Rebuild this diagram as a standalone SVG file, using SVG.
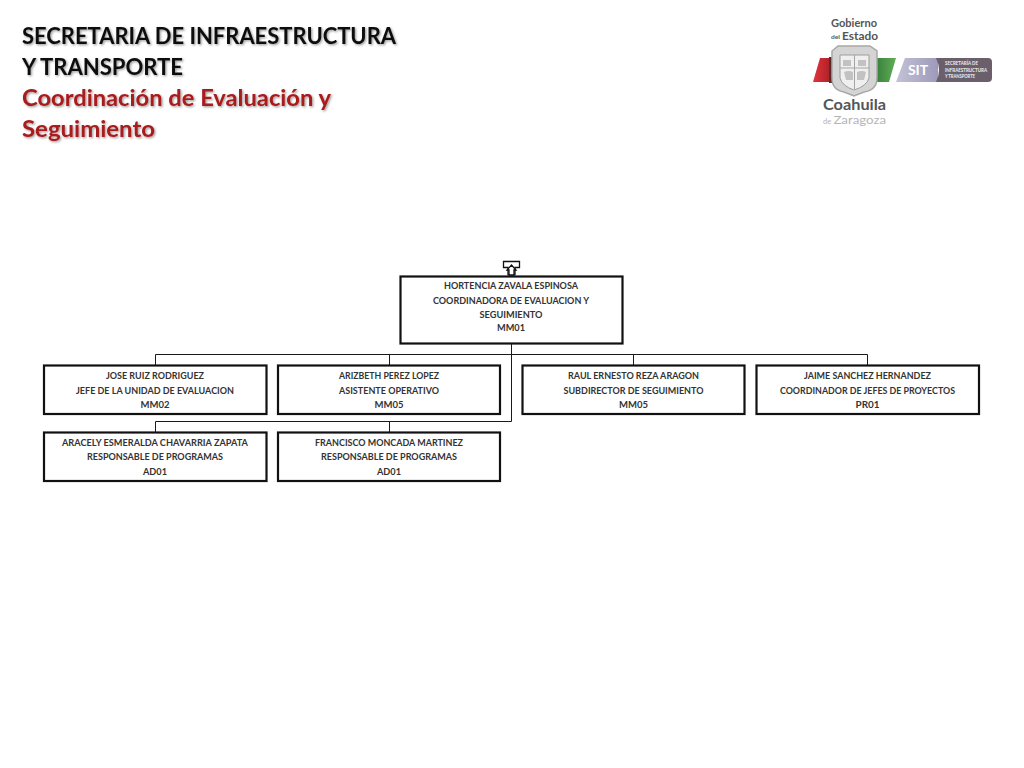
<svg xmlns="http://www.w3.org/2000/svg" width="1024" height="768" viewBox="0 0 1024 768">
<defs>
<filter id="sh" x="-5%" y="-10%" width="110%" height="130%"><feDropShadow dx="1.2" dy="1.2" stdDeviation="1" flood-color="#000" flood-opacity="0.4"/></filter>
<filter id="soft" x="-5%" y="-5%" width="110%" height="110%"><feGaussianBlur stdDeviation="0.5"/></filter>
<linearGradient id="red" x1="0" x2="1" y1="0" y2="0"><stop offset="0" stop-color="#e2343c"/><stop offset="1" stop-color="#9c1a22"/></linearGradient>
<linearGradient id="green" x1="0" x2="1" y1="0" y2="0"><stop offset="0" stop-color="#2f7a38"/><stop offset="1" stop-color="#63ad57"/></linearGradient>
<linearGradient id="lav" x1="0" x2="1" y1="0" y2="0"><stop offset="0" stop-color="#c3c2d6"/><stop offset="1" stop-color="#9d9abb"/></linearGradient>
</defs>
<style>
text{font-family:"Lato","Open Sans","Liberation Sans",sans-serif}
.box{fill:#fff;stroke:#111;stroke-width:2.2}
.t{font-size:10px;font-weight:700;fill:#333;text-anchor:middle}
.h{font-size:23.5px;font-weight:700;filter:url(#sh)}
.c{fill:none;stroke:#1a1a1a;stroke-width:1}
</style>
<rect width="1024" height="768" fill="#fff"/>
<g id="title">
<text class="h" x="22" y="43.500" fill="#111" textLength="374" lengthAdjust="spacingAndGlyphs">SECRETARIA DE INFRAESTRUCTURA</text>
<text class="h" x="22" y="74.500" fill="#111" textLength="161" lengthAdjust="spacingAndGlyphs">Y TRANSPORTE</text>
<text class="h" x="22" y="105.500" fill="#a81a1e" textLength="309" lengthAdjust="spacingAndGlyphs">Coordinación de Evaluación y</text>
<text class="h" x="22" y="136.500" fill="#a81a1e" textLength="133" lengthAdjust="spacingAndGlyphs">Seguimiento</text>
</g>
<g id="logo">
<text x="831" y="26.500" font-size="12" font-weight="700" fill="#555" textLength="46" lengthAdjust="spacingAndGlyphs">Gobierno</text>
<text x="842" y="40" font-size="12" font-weight="700" fill="#555" textLength="36" lengthAdjust="spacingAndGlyphs">Estado</text>
<text x="831" y="39" font-size="6" font-weight="700" fill="#555" textLength="9" lengthAdjust="spacingAndGlyphs">del</text>
<polygon points="820,58 836,58 836,82 813,82" fill="url(#red)"/>
<polygon points="873,58 896,58 889,82 873,82" fill="url(#green)"/>
<rect x="829" y="57" width="5" height="26" fill="#5a2a2a"/>
<rect x="873" y="57" width="4" height="26" fill="#2d4a30"/>
<g filter="url(#soft)">
<path d="M832 51 L838 46 H870 L877 51 V78 Q877 90 864 92 L854 96 L844 92 Q832 90 832 78Z" fill="#d4d4d4" stroke="#a8a8a8" stroke-width="1.500"/>
<path d="M840 55 H869 V78 Q867 86 854 90 Q842 86 840 78Z" fill="#efefef" stroke="#9e9e9e"/>
<path d="M854.500 55V89M840 68H869" stroke="#a5a5a5" fill="none"/>
<path d="M843 60h8v6h-8zM858 60h8v6h-8zM844 72q5-2 9 0v8h-7zM857 72q5-2 9 0l-2 8h-7z" fill="#c2c2c2"/>
</g>
<text x="823" y="109.500" font-size="16" font-weight="700" fill="#555" textLength="63" lengthAdjust="spacingAndGlyphs">Coahuila</text>
<text x="823" y="124" font-size="12" fill="#b5b5b5" textLength="63" lengthAdjust="spacingAndGlyphs"><tspan font-size="7">de </tspan>Zaragoza</text>
<polygon points="905,58 938,58 938,82 896,82" fill="url(#lav)"/>
<path d="M936 58 H988 Q992 58 992 62 V78 Q992 82 988 82 H936 Q942 70 936 58Z" fill="#6b5f6b"/>
<text x="918" y="75" font-size="14" font-weight="700" fill="#fff" text-anchor="middle">SIT</text>
<text x="945" y="65" font-size="5" font-weight="700" fill="#eee" textLength="33" lengthAdjust="spacingAndGlyphs">SECRETARÍA DE</text>
<text x="945" y="71.500" font-size="5" font-weight="700" fill="#eee" textLength="42" lengthAdjust="spacingAndGlyphs">INFRAESTRUCTURA</text>
<text x="945" y="78" font-size="5" font-weight="700" fill="#eee" textLength="30" lengthAdjust="spacingAndGlyphs">Y TRANSPORTE</text>
</g>
<g id="connectors">
<path class="c" d="M511.500 343V421.500M155.500 354.500H867.500M155.500 354.500V365M389.500 354.500V365M633.500 354.500V365M867.500 354.500V365M155.500 421.500H511.500M155.500 421.500V432M389.500 421.500V432"/>
</g>
<g id="icon">
<path d="M503.500 261.500H519.500V267.500H515V274.500H508V267.500H503.500Z" fill="#fff" stroke="#111" stroke-width="1.300"/>
<path d="M511.500 265L507 270H509V275H514V270H516Z" fill="#fff" stroke="#111" stroke-width="1.300"/>
</g>
<g id="n0"><rect class="box" x="400.500" y="276.500" width="222" height="67"/>
<text class="t" x="511" y="289" textLength="134" lengthAdjust="spacingAndGlyphs">HORTENCIA ZAVALA ESPINOSA</text><text class="t" x="511" y="304" textLength="156" lengthAdjust="spacingAndGlyphs">COORDINADORA DE EVALUACION Y</text><text class="t" x="511" y="317.500" textLength="63" lengthAdjust="spacingAndGlyphs">SEGUIMIENTO</text><text class="t" x="511" y="331" textLength="28" lengthAdjust="spacingAndGlyphs">MM01</text></g>
<g id="n1"><rect class="box" x="44" y="365.500" width="222.500" height="48.500"/>
<text class="t" x="155" y="379" textLength="98" lengthAdjust="spacingAndGlyphs">JOSE RUIZ RODRIGUEZ</text><text class="t" x="155" y="393.500" textLength="158" lengthAdjust="spacingAndGlyphs">JEFE DE LA UNIDAD DE EVALUACION</text><text class="t" x="155" y="408" textLength="29" lengthAdjust="spacingAndGlyphs">MM02</text></g>
<g id="n2"><rect class="box" x="278" y="365.500" width="222" height="48.500"/>
<text class="t" x="389" y="379" textLength="100" lengthAdjust="spacingAndGlyphs">ARIZBETH PEREZ LOPEZ</text><text class="t" x="389" y="393.500" textLength="100" lengthAdjust="spacingAndGlyphs">ASISTENTE OPERATIVO</text><text class="t" x="389" y="408" textLength="29" lengthAdjust="spacingAndGlyphs">MM05</text></g>
<g id="n3"><rect class="box" x="522.500" y="365.500" width="222" height="48.500"/>
<text class="t" x="633.500" y="379" textLength="131" lengthAdjust="spacingAndGlyphs">RAUL ERNESTO REZA ARAGON</text><text class="t" x="633.500" y="393.500" textLength="140" lengthAdjust="spacingAndGlyphs">SUBDIRECTOR DE SEGUIMIENTO</text><text class="t" x="633.500" y="408" textLength="29" lengthAdjust="spacingAndGlyphs">MM05</text></g>
<g id="n4"><rect class="box" x="756.500" y="365.500" width="222.500" height="48.500"/>
<text class="t" x="867.500" y="379" textLength="127" lengthAdjust="spacingAndGlyphs">JAIME SANCHEZ HERNANDEZ</text><text class="t" x="867.500" y="393.500" textLength="175" lengthAdjust="spacingAndGlyphs">COORDINADOR DE JEFES DE PROYECTOS</text><text class="t" x="867.500" y="408" textLength="24" lengthAdjust="spacingAndGlyphs">PR01</text></g>
<g id="n5"><rect class="box" x="44" y="432.500" width="222.500" height="48.500"/>
<text class="t" x="155" y="446" textLength="186" lengthAdjust="spacingAndGlyphs">ARACELY ESMERALDA CHAVARRIA ZAPATA</text><text class="t" x="155" y="460" textLength="136" lengthAdjust="spacingAndGlyphs">RESPONSABLE DE PROGRAMAS</text><text class="t" x="155" y="475" textLength="24" lengthAdjust="spacingAndGlyphs">AD01</text></g>
<g id="n6"><rect class="box" x="278" y="432.500" width="222" height="48.500"/>
<text class="t" x="389" y="446" textLength="148" lengthAdjust="spacingAndGlyphs">FRANCISCO MONCADA MARTINEZ</text><text class="t" x="389" y="460" textLength="136" lengthAdjust="spacingAndGlyphs">RESPONSABLE DE PROGRAMAS</text><text class="t" x="389" y="475" textLength="24" lengthAdjust="spacingAndGlyphs">AD01</text></g>
</svg>
